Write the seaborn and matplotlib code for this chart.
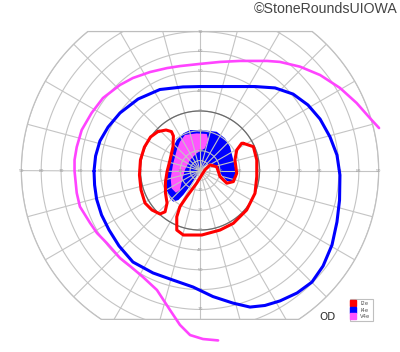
import numpy as np
import pandas as pd
import matplotlib
matplotlib.use("Agg")
import matplotlib.pyplot as plt
from matplotlib.patches import Polygon
from matplotlib.lines import Line2D
import seaborn as sns

# ---------------- data (visual-field degrees, x: right +, y: up +) ----------------
v4e_x = [9.1, 1.5, -5.0, -10.1, -15.1, -21.7, -28.7, -35.3, -40.3, -47.0, -51.9, -55.4,
         -60.5, -62.1, -63.2, -63.2, -62.1, -59.6, -54.6, -48.9, -40.3, -33.8, -25.2,
         -16.6, -10.1, 0.0, 10.1, 20.2, 33.8, 40.3, 50.4, 60.5, 70.5, 78.9, 85.6, 90.2]
v4e_y = [-85.6, -84.9, -82.9, -77.8, -70.3, -60.2, -53.7, -48.1, -44.1, -36.5, -31.5, -26.4,
         -18.2, -11.3, -0.3, 5.3, 11.8, 20.4, 29.0, 36.5, 43.1, 46.6, 49.6,
         51.6, 52.6, 53.7, 54.7, 55.2, 55.2, 54.7, 52.3, 48.1, 41.6, 34.0, 26.4, 21.4]

i4e_x = [-53.4, -52.6, -50.4, -46.3, -40.3, -31.2, -20.2, -8.6, 0.0, 15.1, 27.7, 37.8,
         46.9, 54.4, 60.5, 65.5, 69.0, 70.5, 70.3, 69.0, 66.5, 62.0, 56.4, 48.9, 40.3,
         32.7, 25.2, 16.6, 6.5, -3.5, -13.6, -23.7, -33.8, -40.8, -45.8, -49.6, -52.1, -53.1]
i4e_y = [-0.3, 7.3, 14.9, 21.9, 29.0, 36.0, 40.8, 42.1, 42.3, 42.3, 42.3, 41.6,
         38.5, 33.0, 25.9, 16.9, 7.8, -2.3, -14.9, -25.9, -37.5, -48.1, -56.2, -61.7, -65.7,
         -68.0, -68.8, -66.8, -63.5, -58.7, -55.2, -51.6, -46.1, -38.0, -30.0, -22.4, -14.4, -7.3]

i2e_nasal_x = [-21.2, -17.1, -14.4, -13.4, -13.6, -15.1, -16.6, -17.4, -17.4, -16.6, -17.6,
               -20.2, -24.2, -27.7, -29.7, -30.5, -30.0, -28.0, -24.9]
i2e_nasal_y = [19.6, 20.4, 19.6, 17.4, 12.0, 5.3, -0.6, -5.8, -11.3, -16.4, -20.8,
               -21.9, -19.9, -16.4, -9.8, -2.3, 5.3, 11.8, 16.9]

i2e_arc_x = [21.8, 26.9, 28.6, 28.6, 27.7, 23.5, 16.8, 10.1, 0.9, -8.4, -11.7, -11.7, -10.1,
             -6.7, -1.7, 2.5, 5.0, 8.4, 10.1, 13.5, 16.8, 18.5, 17.6, 18.5, 21.0]
i2e_arc_y = [13.7, 12.0, 5.3, -3.1, -11.5, -19.9, -26.6, -30.0, -32.5, -32.5, -30.0, -23.3, -18.2,
             -13.2, -6.4, 0.3, 2.8, 1.9, -3.1, -6.4, -5.6, -1.4, 5.3, 10.3, 13.7]

i4e_fill_x = [-5.0, 3.4, 8.4, 12.6, 15.1, 16.8, 18.1, 18.1, 16.0, 13.5, 10.9, 8.4, 5.0, 1.7,
              -1.7, -5.9, -8.4, -10.9, -13.5, -15.1, -16.8, -17.6, -16.0, -14.3, -11.7, -8.4]
i4e_fill_y = [20.4, 20.1, 19.5, 16.2, 12.0, 5.3, -0.6, -3.9, -5.6, -5.3, -2.3, 1.9, 3.6, 1.9,
              -3.1, -9.0, -12.3, -14.9, -15.7, -14.0, -9.8, -4.8, 3.6, 10.3, 15.4, 18.7]

v4e_fill_x = [-7.6, -1.7, 3.4, 4.2, 2.5, -1.7, -5.0, -7.6, -9.2, -10.1, -12.1, -14.3,
              -14.8, -13.5, -11.7, -10.1]
v4e_fill_y = [17.9, 18.7, 18.4, 15.4, 11.2, 8.7, 5.3, 0.3, -5.6, -9.8, -11.2, -9.0,
              -3.9, 3.6, 10.3, 14.5]

ring_degrees = [5, 10, 20, 30, 40, 50, 60, 70, 80, 90]
meridian_angles = list(range(0, 360, 15))
h_labels = [10, 20, 30, 40, 50, 60, 70, 80, 90]
v_labels = [10, 20, 30, 40, 50, 60, 70]
legend_names = ["I2e", "I4e", "V4e"]
legend_colors = ["#ff0000", "#0000ff", "#ff55ff"]

TOP_LIMIT = 70.0
BOTTOM_LIMIT = 75.0
OUTER = 90.0

# ---------------- figure ----------------
sns.set_style("white")
plt.rcParams["font.family"] = ["DejaVu Sans"]
S = 1.985  # px per degree
fig = plt.figure(figsize=(4.0, 3.52), dpi=100)
ax = fig.add_axes([0, 0, 1, 1])
ax.set_xlim(-200 / S, 200 / S)
ax.set_ylim(-(352 - 170.5) / S, 170.5 / S)
ax.axis("off")

# clip region (90 deg ring cut by the top/bottom lines)
t_top = np.arcsin(TOP_LIMIT / OUTER)
t_bot = np.arcsin(BOTTOM_LIMIT / OUTER)
a1 = np.linspace(-t_bot, t_top, 200)
a2 = np.linspace(np.pi - t_top, np.pi + t_bot, 200)
bx = np.concatenate([OUTER * np.cos(a1), OUTER * np.cos(a2)])
by = np.concatenate([OUTER * np.sin(a1), OUTER * np.sin(a2)])
clip = Polygon(np.column_stack([bx, by]), closed=True, transform=ax.transData,
               facecolor="none", edgecolor="#bdbdbd", lw=0.9, zorder=2)
ax.add_patch(clip)

grid_color = "#c4c4c4"
# fills
ax.fill(i4e_fill_x, i4e_fill_y, color="#0000ff", lw=0, zorder=1)
ax.fill(v4e_fill_x, v4e_fill_y, color="#ff55ff", lw=0, zorder=1.1)

# rings
th = np.linspace(0, 2 * np.pi, 400)
for r in ring_degrees:
    ln, = ax.plot(r * np.cos(th), r * np.sin(th), color=grid_color, lw=0.8, zorder=2)
    ln.set_clip_path(clip)
# darker 30 deg ring
ax.plot(30 * np.cos(th), 30 * np.sin(th), color="#6a6a6a", lw=0.9, zorder=2.1)
# meridians
for a in meridian_angles:
    rad = np.deg2rad(a)
    ln, = ax.plot([0, OUTER * 1.2 * np.cos(rad)], [0, OUTER * 1.2 * np.sin(rad)],
                  color=grid_color, lw=0.8, zorder=2)
    ln.set_clip_path(clip)

# axis labels
for v in h_labels:
    for sgn in (-1, 1):
        ax.text(sgn * v, 0, str(v), fontsize=3.2, color="#9a9a9a", ha="center",
                va="center", zorder=2.2)
for v in v_labels:
    for sgn in (-1, 1):
        ax.text(0, sgn * v, str(v), fontsize=3.2, color="#9a9a9a", ha="center",
                va="center", zorder=2.2)

# isopters
def closed(xs, ys):
    return pd.DataFrame({"x": list(xs) + [xs[0]], "y": list(ys) + [ys[0]]})

kw = dict(sort=False, estimator=None, solid_capstyle="round", solid_joinstyle="round", ax=ax)
sns.lineplot(data=closed(i4e_x, i4e_y), x="x", y="y", color="#0000ff", lw=2.2, zorder=4, **kw)
sns.lineplot(data=pd.DataFrame({"x": v4e_x, "y": v4e_y}), x="x", y="y", color="#ff44ff",
             lw=1.9, zorder=4, **kw)
sns.lineplot(data=closed(i2e_nasal_x, i2e_nasal_y), x="x", y="y", color="#ff0000", lw=2.2,
             zorder=5, **kw)
sns.lineplot(data=closed(i2e_arc_x, i2e_arc_y), x="x", y="y", color="#ff0000", lw=2.2,
             zorder=5, **kw)

ax.set_xlim(-200 / S, 200 / S)
ax.set_ylim(-(352 - 170.5) / S, 170.5 / S)
ax.axis("off")

# legend
handles = [Line2D([], [], marker="s", color=c, linestyle="", markersize=3.8) for c in legend_colors]
leg = ax.legend(handles, legend_names, loc="lower right", bbox_to_anchor=(372.5 / 400, 31 / 352),
                bbox_transform=fig.transFigure, fontsize=3.8, frameon=True, fancybox=False,
                edgecolor="#b0b0b0", borderpad=0.35, handlelength=0.7, handletextpad=1.0,
                labelspacing=0.3, borderaxespad=0)
leg.get_frame().set_linewidth(0.8)
for t in leg.get_texts():
    t.set_color("#555555")

fig.text(328 / 400, 1 - 316.5 / 352, "OD", fontsize=7.5, color="#333333", ha="center", va="center")
fig.text(398 / 400, 1 - 9 / 352, "©StoneRoundsUIOWA", fontsize=10.2, color="#444444",
         ha="right", va="center", family=["Liberation Sans", "DejaVu Sans"])

fig.savefig("out.png", dpi=100)
